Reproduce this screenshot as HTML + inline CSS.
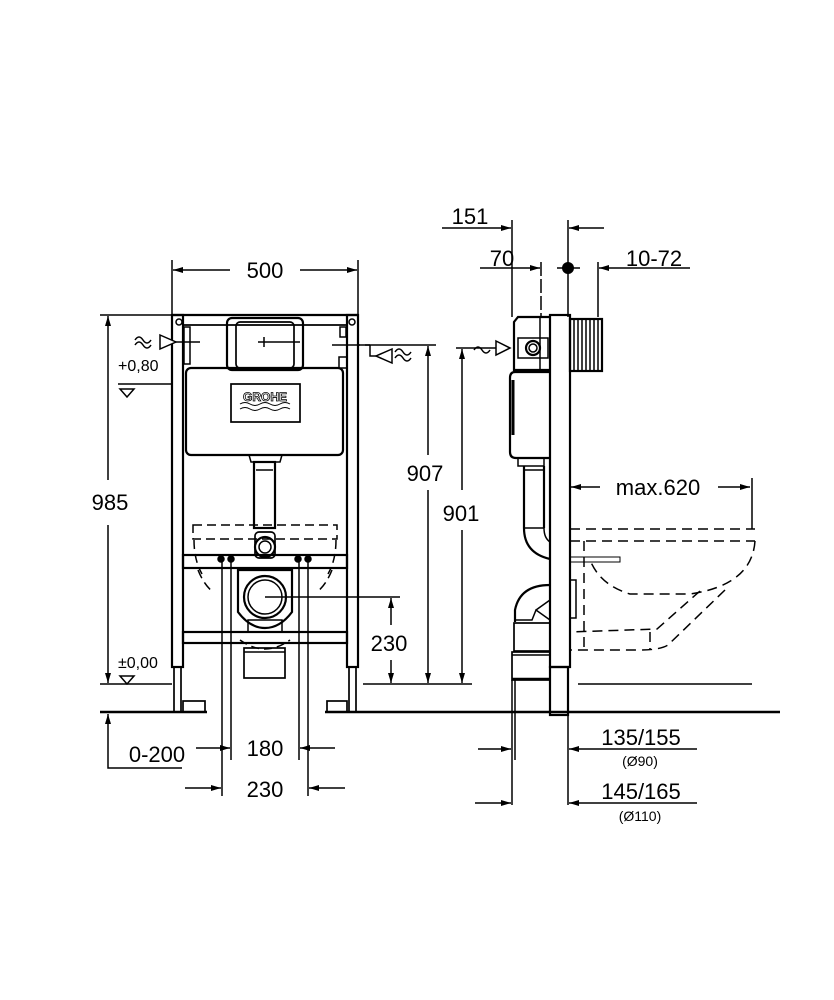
<!DOCTYPE html>
<html><head><meta charset="utf-8"><style>
html,body{margin:0;padding:0;background:#fff}
svg{display:block}
text{font-family:"Liberation Sans",sans-serif;fill:#000}
</style></head><body>
<svg width="834" height="1000" viewBox="0 0 834 1000" xmlns="http://www.w3.org/2000/svg">
<defs>
<marker id="a" viewBox="0 0 10 6" refX="10" refY="3" markerWidth="12" markerHeight="6" markerUnits="userSpaceOnUse" orient="auto"><path d="M0,0 L10,3 L0,6 z" fill="#000"/></marker>
</defs>
<g stroke="#000" fill="none" stroke-width="1.5">
<line x1="100" y1="712" x2="207" y2="712" stroke-width="2.5"/>
<line x1="325" y1="712" x2="780" y2="712" stroke-width="2.5"/>
<line x1="100" y1="684" x2="172" y2="684"/>
<line x1="363" y1="684" x2="472" y2="684"/>
<line x1="578" y1="684" x2="752" y2="684"/>
<line x1="118" y1="384" x2="172" y2="384"/>
<path d="M120,389 L134,389 L127,397 z"/>
<path d="M120,676 L134,676 L127,684 z"/>

<rect x="172" y="315" width="11" height="352" stroke-width="2.2"/>
<rect x="347" y="315" width="11" height="352" stroke-width="2.2"/>
<rect x="174" y="667" width="7" height="45" stroke-width="1.7"/>
<rect x="349" y="667" width="7" height="45" stroke-width="1.7"/>
<rect x="183" y="701" width="22" height="11" stroke-width="1.7"/>
<rect x="327" y="701" width="20" height="11" stroke-width="1.7"/>
<line x1="172" y1="315" x2="358" y2="315" stroke-width="2.2"/>
<line x1="183" y1="325" x2="347" y2="325" stroke-width="1.7"/>
<circle cx="179" cy="322" r="3"/><circle cx="352" cy="322" r="3"/>
<rect x="184" y="327" width="6" height="37"/>
<rect x="340" y="327" width="6" height="10"/>
<rect x="339" y="357" width="8" height="11"/>
<rect x="227" y="318" width="76" height="52" rx="5" stroke-width="2.2"/>
<rect x="236" y="322" width="58" height="46" rx="4" stroke-width="1.7"/>
<line x1="264" y1="337" x2="264" y2="347"/>
<line x1="258" y1="342" x2="300" y2="342"/>
<rect x="186" y="368" width="157" height="87" rx="5" stroke-width="2.2"/>
<rect x="231" y="384" width="69" height="38" stroke-width="1.7"/>
<path d="M240,404 q5,-3 10,0 t10,0 t10,0 t10,0 t10,0" stroke-width="1"/>
<path d="M240,409 q5,-3 10,0 t10,0 t10,0 t10,0 t10,0" stroke-width="1"/>
<path d="M249,455 L282,455 L280,462 L251,462 z"/>
<rect x="254" y="462" width="21" height="66" stroke-width="2.2"/>
<line x1="256" y1="470" x2="273" y2="470"/>
<rect x="193" y="525" width="144" height="14" stroke-dasharray="9,5"/>
<path d="M194,540 q0,20 8,34" stroke-dasharray="9,5"/>
<path d="M336,540 q0,20 -8,34" stroke-dasharray="9,5"/>
<rect x="255" y="532" width="20" height="26" rx="4" stroke-width="1.7"/>
<circle cx="265" cy="547" r="10" stroke-width="2.2"/>
<circle cx="265" cy="547" r="6"/>
<rect x="183" y="555" width="164" height="13" stroke-width="2.2"/>
<rect x="183" y="632" width="164" height="11" stroke-width="2.2"/>
<circle cx="221" cy="559" r="3" fill="#000"/><circle cx="231" cy="559" r="3" fill="#000"/>
<circle cx="298" cy="559" r="3" fill="#000"/><circle cx="308" cy="559" r="3" fill="#000"/>
<path d="M198,570 q6,15 15,22" stroke-dasharray="9,5"/>
<path d="M332,570 q-6,15 -15,22" stroke-dasharray="9,5"/>
<path d="M238,570 L292,570 L292,612 Q280,628 265,628 Q250,628 238,612 z" stroke-width="2.2"/>
<circle cx="265" cy="597" r="21" stroke-width="2.2"/>
<circle cx="265" cy="597" r="17"/>
<rect x="248" y="620" width="34" height="12"/>
<path d="M240,640 q25,18 50,0" stroke-dasharray="8,5"/>
<rect x="244" y="648" width="41" height="30" stroke-width="1.7"/>
<line x1="244" y1="652" x2="285" y2="652"/>
<line x1="265" y1="597" x2="400" y2="597"/>
<line x1="222" y1="560" x2="222" y2="796"/>
<line x1="231" y1="560" x2="231" y2="760"/>
<line x1="299" y1="560" x2="299" y2="760"/>
<line x1="308" y1="560" x2="308" y2="796"/>
<line x1="160" y1="342" x2="200" y2="342"/>
<path d="M160,335 L176,342 L160,349 z" fill="#fff"/>
<path d="M135,345 q4,-6 8,0 t8,0 M135,340 q4,-6 8,0 t8,0"/>
<line x1="332" y1="345" x2="360" y2="345"/>
<line x1="365" y1="345" x2="370" y2="345"/>
<path d="M370,345 L370,356 L376,356"/>
<path d="M392,349 L376,356 L392,363 z" fill="#fff"/>
<path d="M395,352 q4,-6 8,0 t8,0 M395,358 q4,-6 8,0 t8,0"/>
<line x1="358" y1="345" x2="436" y2="345"/>

<line x1="172" y1="260" x2="172" y2="315"/>
<line x1="358" y1="260" x2="358" y2="315"/>
<line x1="230" y1="270" x2="173" y2="270" marker-end="url(#a)"/>
<line x1="300" y1="270" x2="357" y2="270" marker-end="url(#a)"/>
<line x1="100" y1="315" x2="172" y2="315"/>
<line x1="108" y1="480" x2="108" y2="316" marker-end="url(#a)"/>
<line x1="108" y1="525" x2="108" y2="683" marker-end="url(#a)"/>
<line x1="428" y1="455" x2="428" y2="346" marker-end="url(#a)"/>
<line x1="428" y1="490" x2="428" y2="683" marker-end="url(#a)"/>
<line x1="391" y1="625" x2="391" y2="598" marker-end="url(#a)"/>
<line x1="391" y1="660" x2="391" y2="683" marker-end="url(#a)"/>
<path d="M182,768 L108,768 L108,714" marker-end="url(#a)"/>
<line x1="196" y1="748" x2="230" y2="748" marker-end="url(#a)"/>
<line x1="335" y1="748" x2="300" y2="748" marker-end="url(#a)"/>
<line x1="185" y1="788" x2="221" y2="788" marker-end="url(#a)"/>
<line x1="345" y1="788" x2="309" y2="788" marker-end="url(#a)"/>

<rect x="550" y="315" width="20" height="352" stroke-width="2.2"/>
<rect x="550" y="667" width="18" height="48" stroke-width="2.2"/>
<rect x="570" y="319" width="32" height="52" stroke-width="2.2"/>
<path d="M574,320 V370 M578,320 V370 M582,320 V370 M586,320 V370 M590,320 V370 M594,320 V370 M598,320 V370"/>
<path d="M550,317 L518,317 L514,322 L514,370 L550,370" stroke-width="2.2"/>
<line x1="540" y1="317" x2="540" y2="370"/>
<rect x="518" y="338" width="30" height="20"/>
<circle cx="533" cy="348" r="7" stroke-width="2.2"/>
<circle cx="533" cy="348" r="4"/>
<path d="M550,372 L515,372 Q510,372 510,378 L510,452 Q510,458 516,458 L550,458" stroke-width="2.2"/>
<line x1="513" y1="380" x2="513" y2="435" stroke-width="3"/>
<rect x="518" y="458" width="26" height="8"/>
<path d="M524,466 L524,528 Q524,553 550,559" stroke-width="2.2"/>
<line x1="544" y1="466" x2="544" y2="528" stroke-width="2.2"/>
<path d="M544,528 Q544,538 550,542"/>
<line x1="524" y1="470" x2="544" y2="470"/>
<line x1="524" y1="528" x2="544" y2="528"/>
<path d="M550,585 Q520,585 515,610 L515,622" stroke-width="2.2"/>
<path d="M515,620 L532,620 L536,610 L550,620"/>
<path d="M536,610 L550,600"/>
<rect x="514" y="623" width="36" height="28" stroke-width="1.7"/>
<rect x="512" y="652" width="38" height="28" stroke-width="1.7"/>
<line x1="512" y1="655" x2="550" y2="655"/>
<line x1="512" y1="679" x2="550" y2="679" stroke-width="2.5"/>
<line x1="512" y1="680" x2="512" y2="805"/>
<line x1="515" y1="680" x2="515" y2="760"/>
<line x1="568" y1="712" x2="568" y2="805"/>
<rect x="570" y="580" width="6" height="38"/>
<g stroke-dasharray="10,6">
<line x1="570" y1="529" x2="755" y2="529"/>
<line x1="570" y1="541" x2="755" y2="541"/>
<path d="M755,541 Q752,585 690,594 L630,594 Q600,585 590,560"/>
<path d="M725,590 L668,645 Q660,650 640,650 L570,650"/>
<path d="M700,591 L657,629 L570,632"/>
<line x1="584" y1="541" x2="584" y2="650"/>
<line x1="650" y1="632" x2="650" y2="650"/>
</g>
<rect x="570" y="557" width="50" height="5" stroke-width="1"/>
<line x1="456" y1="348" x2="510" y2="348"/>
<path d="M496,341 L510,348 L496,355 z" fill="#fff"/>
<path d="M474,350 q4,-6 8,0 t8,0"/>
<line x1="462" y1="490" x2="462" y2="349" marker-end="url(#a)"/>
<line x1="462" y1="530" x2="462" y2="683" marker-end="url(#a)"/>
<line x1="600" y1="487" x2="571" y2="487" marker-end="url(#a)"/>
<line x1="718" y1="487" x2="750" y2="487" marker-end="url(#a)"/>
<line x1="752" y1="478" x2="752" y2="529"/>
<line x1="512" y1="220" x2="512" y2="317"/>
<line x1="541" y1="262" x2="541" y2="317" stroke-dasharray="14,3"/>
<line x1="568" y1="220" x2="568" y2="317"/>
<line x1="598" y1="262" x2="598" y2="317"/>
<line x1="442" y1="228" x2="511" y2="228" marker-end="url(#a)"/>
<line x1="604" y1="228" x2="569" y2="228" marker-end="url(#a)"/>
<line x1="480" y1="268" x2="540" y2="268" marker-end="url(#a)"/>
<line x1="690" y1="268" x2="599" y2="268" marker-end="url(#a)"/>
<line x1="557" y1="268" x2="580" y2="268"/>
<line x1="478" y1="749" x2="511" y2="749" marker-end="url(#a)"/>
<line x1="697" y1="749" x2="569" y2="749" marker-end="url(#a)"/>
<line x1="475" y1="803" x2="511" y2="803" marker-end="url(#a)"/>
<line x1="697" y1="803" x2="569" y2="803" marker-end="url(#a)"/>
</g>
<circle cx="568" cy="268" r="6" fill="#000"/>
<g font-size="22">
<text x="265" y="278" text-anchor="middle">500</text>
<text x="110" y="510" text-anchor="middle">985</text>
<text x="425" y="481" text-anchor="middle">907</text>
<text x="461" y="521" text-anchor="middle">901</text>
<text x="389" y="651" text-anchor="middle">230</text>
<text x="157" y="762" text-anchor="middle">0-200</text>
<text x="265" y="756" text-anchor="middle">180</text>
<text x="265" y="797" text-anchor="middle">230</text>
<text x="470" y="224" text-anchor="middle">151</text>
<text x="502" y="266" text-anchor="middle">70</text>
<text x="654" y="266" text-anchor="middle">10-72</text>
<text x="658" y="495" text-anchor="middle">max.620</text>
<text x="641" y="745" text-anchor="middle">135/155</text>
<text x="641" y="799" text-anchor="middle">145/165</text>
</g>
<g font-size="16">
<text x="118" y="371">+0,80</text>
<text x="118" y="668">±0,00</text>
</g>
<g font-size="14">
<text x="640" y="766" text-anchor="middle">(Ø90)</text>
<text x="640" y="821" text-anchor="middle">(Ø110)</text>
</g>
<text x="265" y="401" font-size="12" font-weight="bold" text-anchor="middle" style="fill:#fff;stroke:#000;stroke-width:0.8">GROHE</text>
</svg>
</body></html>
